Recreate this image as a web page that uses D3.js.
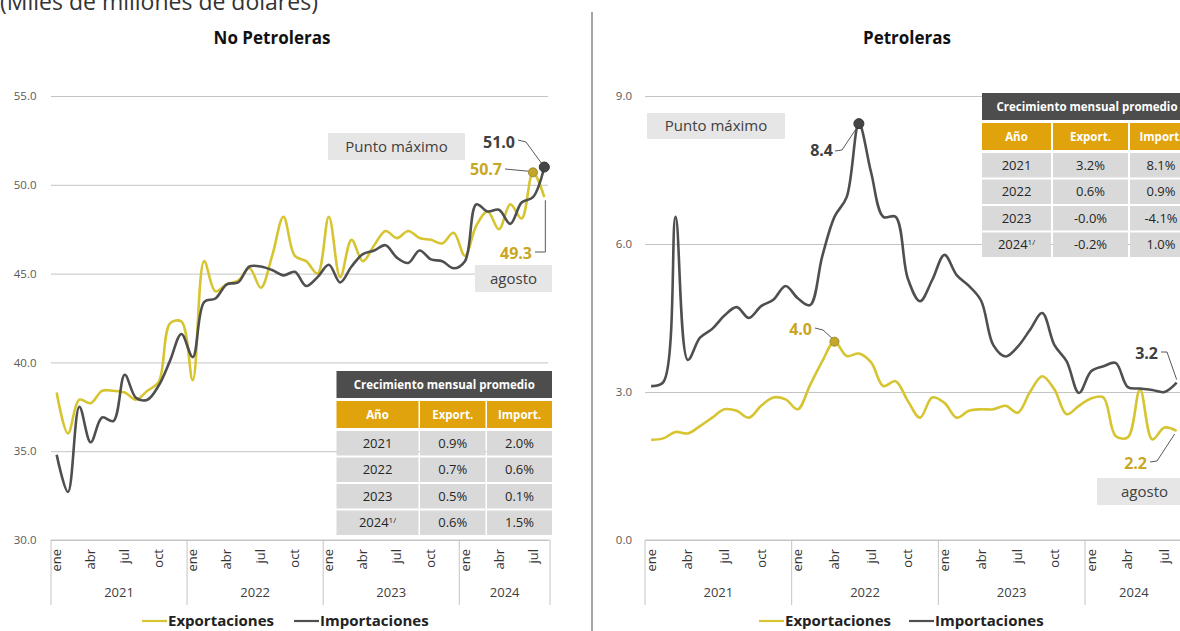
<!DOCTYPE html>
<html><head><meta charset="utf-8">
<script src="https://cdn.jsdelivr.net/npm/d3@7"></script>
<style>
html,body{margin:0;padding:0;background:#fff;overflow:hidden;}
svg{display:block;font-family:"Open Sans",sans-serif;}
</style></head><body>
<svg id="c" width="1180" height="631"></svg>
<script>
// ---------------- DATA ----------------
const monthNames = ["ene","feb","mar","abr","may","jun","jul","ago","sep","oct","nov","dic"];
const yearLabels = ["2021","2022","2023","2024"];
const monthsInLastYear = 8; // hasta agosto 2024
const tickMonths = ["ene","abr","jul","oct"];

const noPetExport = [
  38.3, 36.0, 37.9, 37.7, 38.4, 38.4, 38.3, 37.9, 38.4, 38.9, 42.2, 42.3,
  39.0, 45.7, 44.0, 44.4, 44.6, 45.3, 44.2, 46.0, 48.2, 46.0, 45.7, 45.0,
  48.2, 44.8, 46.9, 45.7, 46.6, 47.4, 47.0, 47.4, 47.0, 46.9, 46.7, 47.3,
  46.0, 47.7, 48.5, 47.5, 48.9, 48.1, 50.7, 49.3];
const noPetImport = [
  34.8, 32.7, 37.5, 35.5, 36.9, 36.7, 39.3, 38.0, 37.9, 38.7, 40.1, 41.6,
  40.3, 43.4, 43.6, 44.4, 44.5, 45.4, 45.4, 45.2, 44.9, 45.1, 44.3, 44.8,
  45.5, 44.5, 45.4, 46.1, 46.3, 46.6, 45.9, 45.6, 46.3, 45.8, 45.7, 45.3,
  45.7, 48.9, 48.5, 48.6, 47.8, 49.0, 49.3, 51.0];
const petExport = [
  2.03, 2.06, 2.19, 2.16, 2.31, 2.48, 2.65, 2.62, 2.48, 2.72, 2.89, 2.85,
  2.65, 3.14, 3.62, 4.02, 3.73, 3.78, 3.60, 3.12, 3.22, 2.82, 2.48, 2.89,
  2.78, 2.48, 2.62, 2.65, 2.65, 2.72, 2.58, 3.00, 3.32, 3.05, 2.55, 2.72,
  2.87, 2.89, 2.11, 2.08, 3.05, 2.04, 2.28, 2.21];
const petImport = [
  3.12, 3.20, 6.55, 3.65, 4.10, 4.28, 4.55, 4.72, 4.50, 4.74, 4.87, 5.15,
  4.90, 4.76, 5.75, 6.55, 6.95, 8.44, 7.45, 6.55, 6.55, 5.30, 4.84, 5.27,
  5.78, 5.37, 5.15, 4.85, 3.95, 3.72, 3.92, 4.26, 4.60, 3.95, 3.62, 2.98,
  3.42, 3.52, 3.59, 3.10, 3.07, 3.04, 3.00, 3.19];

const noPetTicks = [30, 35, 40, 45, 50, 55];
const petTicks = [0, 3, 6, 9];

const tableTitle = "Crecimiento mensual promedio";
const tableHeaders = ["Año", "Export.", "Import."];
const tableYears = ["2021", "2022", "2023", "2024"];
const tableNote = "1/";
const noPetTableExport = ["0.9%", "0.7%", "0.5%", "0.6%"];
const noPetTableImport = ["2.0%", "0.6%", "0.1%", "1.5%"];
const petTableExport = ["3.2%", "0.6%", "-0.0%", "-0.2%"];
const petTableImport = ["8.1%", "0.9%", "-4.1%", "1.0%"];

const unitsText = "(Miles de millones de dólares)";
const legendLabels = ["Exportaciones", "Importaciones"];

// ------------- derived categories -------------
const periods = [];
yearLabels.forEach((yr, yi) => {
  const n = yi === yearLabels.length - 1 ? monthsInLastYear : 12;
  for (let m = 0; m < n; m++) periods.push(yr + "-" + monthNames[m]);
});

// ---------------- STYLE ----------------
const C_EXP = "#d6c431", C_IMP = "#4f4f4f", C_GOLD_TXT = "#c9a623", C_DARK_TXT = "#404040";
const C_GRID = "#c4c4c4";
const fmt1 = d3.format(".1f");

const svg = d3.select("#c");

svg.append("text").attr("x", 0).attr("y", 10).attr("font-size", 23).attr("fill", "#333")
  .text(unitsText);

svg.append("line").attr("x1", 592).attr("x2", 592).attr("y1", 12).attr("y2", 631)
  .attr("stroke", "#a6a6a6").attr("stroke-width", 2);

function drawPanel(cfg) {
  const g = svg.append("g");
  const x = d3.scaleBand().domain(periods).range(cfg.xRange).padding(0);
  const cx = p => x(p) + x.bandwidth() / 2;
  const y = d3.scaleLinear().domain(d3.extent(cfg.ticks)).range([540, 96]);

  // title
  g.append("text").attr("x", cfg.titleX).attr("y", 44).attr("text-anchor", "middle")
    .attr("font-size", 17).attr("font-weight", "bold").attr("fill", "#111").text(cfg.title);

  // y axis + gridlines
  const ya = g.append("g").attr("transform", `translate(${cfg.xRange[0]},0)`)
    .call(d3.axisLeft(y).tickValues(cfg.ticks).tickFormat(fmt1)
      .tickSizeInner(-(cfg.gridEnd - cfg.xRange[0])).tickSizeOuter(0).tickPadding(cfg.labelPad));
  ya.select(".domain").remove();
  ya.selectAll(".tick line").attr("stroke", C_GRID);
  ya.selectAll(".tick text").attr("fill", "#595959").attr("font-size", 11.5)
    .attr("font-family", "Open Sans, sans-serif");

  // x axis month labels
  const xa = g.append("g").attr("transform", "translate(0,540)")
    .call(d3.axisBottom(x).tickValues(periods.filter(p => tickMonths.includes(p.split("-")[1])))
      .tickFormat(p => p.split("-")[1]).tickSize(0));
  xa.select(".domain").remove();
  xa.selectAll(".tick text").attr("transform", "rotate(-90)").attr("x", -9).attr("y", 0)
    .attr("dy", "0.35em").attr("text-anchor", "end").attr("fill", "#333")
    .attr("font-size", 13).attr("font-family", "Open Sans, sans-serif");

  // baseline
  g.append("line").attr("x1", cfg.xRange[0]).attr("x2", cfg.xRange[1]).attr("y1", 540).attr("y2", 540)
    .attr("stroke", C_GRID);

  // year separators & labels
  const yearStarts = yearLabels.map(yr => x(yr + "-ene"));
  const seps = yearStarts.concat([cfg.xRange[1]]);
  g.selectAll(".ysep").data(seps).join("line").attr("x1", d => d).attr("x2", d => d)
    .attr("y1", 540).attr("y2", 605).attr("stroke", C_GRID);
  g.selectAll(".ylab").data(yearLabels).join("text")
    .attr("x", (d, i) => (seps[i] + seps[i + 1]) / 2).attr("y", 597)
    .attr("text-anchor", "middle").attr("font-size", 13).attr("fill", "#404040").text(d => d);

  // lines
  const line = d3.line().x((d, i) => cx(periods[i])).y(d => y(d)).curve(d3.curveCatmullRom.alpha(0.5));
  g.append("path").attr("d", line(cfg.exp)).attr("fill", "none").attr("stroke", C_EXP)
    .attr("stroke-width", 2.6).attr("stroke-linejoin", "round");
  g.append("path").attr("d", line(cfg.imp)).attr("fill", "none").attr("stroke", C_IMP)
    .attr("stroke-width", 2.6).attr("stroke-linejoin", "round");

  // annotation boxes
  cfg.boxes.forEach(b => {
    g.append("rect").attr("x", b.x).attr("y", b.y).attr("width", b.w).attr("height", b.h).attr("fill", "#e6e6e6");
    g.append("text").attr("x", b.x + b.w / 2).attr("y", b.y + b.h / 2).attr("dy", "0.35em")
      .attr("text-anchor", "middle").attr("font-size", 15).attr("fill", "#404040").text(b.text);
  });

  // point annotations
  cfg.points.forEach(a => {
    const vals = a.series === "exp" ? cfg.exp : cfg.imp;
    const px = cx(periods[a.index]), py = y(vals[a.index]);
    const pts = a.leader(px, py);
    g.append("polyline").attr("points", pts.map(p => p.join(",")).join(" "))
      .attr("fill", "none").attr("stroke", "#595959").attr("stroke-width", 1);
    if (a.dot) {
      g.append("circle").attr("cx", px).attr("cy", py).attr("r", a.series === "exp" ? 4.5 : 5)
        .attr("fill", a.series === "exp" ? "#c4a72a" : "#454545")
        .attr("stroke", a.series === "exp" ? "#9c8a2a" : "#333").attr("stroke-width", 1);
    }
    g.append("text").attr("x", a.lx).attr("y", a.ly).attr("dy", "0.35em").attr("text-anchor", "end")
      .attr("font-size", 16).attr("font-weight", "bold")
      .attr("fill", a.series === "exp" ? C_GOLD_TXT : C_DARK_TXT).text(fmt1(vals[a.index]));
  });

  // table
  const t = cfg.table;
  const totalW = t.cols[t.cols.length - 1][1] - t.cols[0][0];
  const tg = g.append("g");
  tg.append("rect").attr("x", t.cols[0][0]).attr("y", t.y0).attr("width", totalW).attr("height", 27).attr("fill", "#4d4d4d");
  tg.append("text").attr("x", t.cols[0][0] + totalW / 2).attr("y", t.y0 + 13.5).attr("dy", "0.35em")
    .attr("text-anchor", "middle").attr("font-size", 11.5).attr("font-weight", "bold").attr("fill", "#fff").text(tableTitle);
  const hy = t.y0 + 30;
  tableHeaders.forEach((h, ci) => {
    const [a, b] = t.cols[ci];
    tg.append("rect").attr("x", a).attr("y", hy).attr("width", b - a).attr("height", 27).attr("fill", "#e0a30b");
    tg.append("text").attr("x", (a + b) / 2).attr("y", hy + 13.5).attr("dy", "0.35em").attr("text-anchor", "middle")
      .attr("font-size", 11.5).attr("font-weight", "bold").attr("fill", "#fff").text(h);
  });
  tableYears.forEach((yr, ri) => {
    const ry = hy + 30 + ri * 26.5;
    const cells = [yr, t.exp[ri], t.imp[ri]];
    cells.forEach((v, ci) => {
      const [a, b] = t.cols[ci];
      tg.append("rect").attr("x", a).attr("y", ry).attr("width", b - a).attr("height", 24.5).attr("fill", "#d9d9d9");
      const tx = tg.append("text").attr("x", (a + b) / 2).attr("y", ry + 12.25).attr("dy", "0.35em")
        .attr("text-anchor", "middle").attr("font-size", 13).attr("fill", "#262626");
      tx.append("tspan").text(v);
      if (ci === 0 && ri === tableYears.length - 1) {
        tx.append("tspan").attr("font-size", 8).attr("dy", "-0.6em").text(tableNote);
      }
    });
  });
}

drawPanel({
  title: "No Petroleras", titleX: 272,
  xRange: [51, 550], gridEnd: 548, labelPad: 14.5,
  ticks: noPetTicks, exp: noPetExport, imp: noPetImport,
  boxes: [
    {x: 328, y: 133, w: 137, h: 27, text: "Punto máximo"},
    {x: 475, y: 265, w: 77, h: 27, text: "agosto"}
  ],
  points: [
    {series: "imp", index: 43, dot: true, lx: 515, ly: 142,
      leader: (px, py) => [[518, 140], [526, 142], [px - 3, py - 4]]},
    {series: "exp", index: 42, dot: true, lx: 502, ly: 169,
      leader: (px, py) => [[505, 169], [px - 3, py - 1]]},
    {series: "exp", index: 43, dot: false, lx: 532, ly: 253,
      leader: (px, py) => [[535, 252], [px + 1, 252], [px + 1, py + 3]]}
  ],
  table: {y0: 371, cols: [[336.5, 418.5], [420, 485.5], [487, 552]], exp: noPetTableExport, imp: noPetTableImport}
});

drawPanel({
  title: "Petroleras", titleX: 907,
  xRange: [645, 1182.8], gridEnd: 1190, labelPad: 13,
  ticks: petTicks, exp: petExport, imp: petImport,
  boxes: [
    {x: 647, y: 113, w: 138, h: 26, text: "Punto máximo"},
    {x: 1097, y: 478, w: 95, h: 27, text: "agosto"}
  ],
  points: [
    {series: "imp", index: 17, dot: true, lx: 833, ly: 150,
      leader: (px, py) => [[835, 151], [842, 150], [px - 2, py + 4]]},
    {series: "exp", index: 15, dot: true, lx: 812, ly: 329,
      leader: (px, py) => [[815, 328], [823, 330], [px - 2, py - 3]]},
    {series: "imp", index: 43, dot: false, lx: 1158, ly: 353,
      leader: (px, py) => [[1161, 352], [1167, 352], [px, py - 3]]},
    {series: "exp", index: 43, dot: false, lx: 1147, ly: 463,
      leader: (px, py) => [[1150, 462], [1157, 461], [px - 2, py + 3]]}
  ],
  table: {y0: 93, cols: [[982, 1051], [1053, 1128], [1130, 1192]], exp: petTableExport, imp: petTableImport}
});

// legends
function legend(x0, gap) {
  const g = svg.append("g").attr("transform", `translate(${x0},621)`);
  g.append("line").attr("x1", 0).attr("x2", 25).attr("y1", 0).attr("y2", 0).attr("stroke", C_EXP).attr("stroke-width", 2.2);
  const t1 = g.append("text").attr("x", 26).attr("y", 0).attr("dy", "0.35em").attr("font-size", 15)
    .attr("font-weight", "bold").attr("fill", "#222").text(legendLabels[0]);
  const w = t1.node().getComputedTextLength();
  const x2 = 26 + w + gap;
  g.append("line").attr("x1", x2).attr("x2", x2 + 25).attr("y1", 0).attr("y2", 0).attr("stroke", C_IMP).attr("stroke-width", 2.2);
  g.append("text").attr("x", x2 + 26).attr("y", 0).attr("dy", "0.35em").attr("font-size", 15)
    .attr("font-weight", "bold").attr("fill", "#222").text(legendLabels[1]);
}
legend(142, 20);
legend(759, 18);
</script>
</body></html>
